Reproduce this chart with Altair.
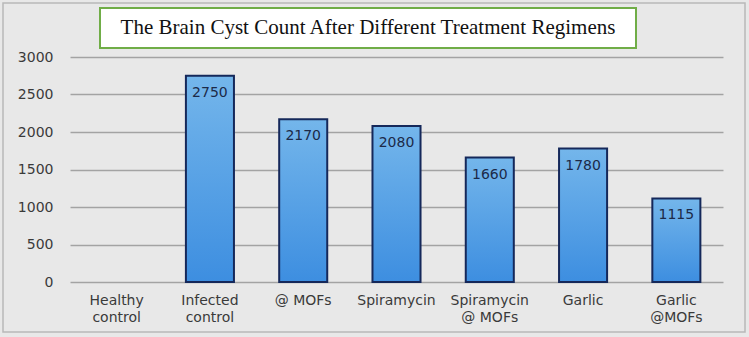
import altair as alt
import pandas as pd

categories = ["Healthy control", "Infected control", "@ MOFs", "Spiramycin",
              "Spiramycin @ MOFs", "Garlic", "Garlic @MOFs"]
label_lines = ["Healthy|control", "Infected|control", "@ MOFs", "Spiramycin",
               "Spiramycin|@ MOFs", "Garlic", "Garlic|@MOFs"]
counts = [0, 2750, 2170, 2080, 1660, 1780, 1115]
y_ticks = [0, 500, 1000, 1500, 2000, 2500, 3000]
title_text = "The Brain Cyst Count After Different Treatment Regimens"

df = pd.DataFrame({"group": categories, "count": counts, "lbl": label_lines})
label_map = {c: l for c, l in zip(categories, label_lines)}
expr_map = "{" + ",".join(f"'{c}':'{l}'" for c, l in label_map.items()) + "}"

W, H = 653, 225

xenc = alt.X("group:N", sort=categories,
             scale=alt.Scale(domain=categories, paddingInner=0.485, paddingOuter=0.2425),
             axis=alt.Axis(title=None, labelAngle=0, domain=False, ticks=False,
                           labelPadding=11, labelFont="DejaVu Sans", labelFontSize=14,
                           labelColor="#3a3a3a", labelLineHeight=17, labelBaseline="top",
                           labelExpr=f"split({expr_map}[datum.value], '|')"))
yenc = alt.Y("count:Q", scale=alt.Scale(domain=[0, 3000], nice=False),
             axis=alt.Axis(title=None, values=y_ticks, tickCount=7, format="d",
                           domain=False, ticks=False, labelOverlap=False,
                           labelPadding=17, labelFont="DejaVu Sans", labelFontSize=14,
                           labelColor="#3a3a3a", gridColor="#a3a3a3", gridWidth=1.5))

base = alt.Chart(df).transform_filter("datum.count > 0")

bars = base.mark_bar(
    color=alt.Gradient(gradient="linear",
                       stops=[alt.GradientStop(color="#74b6eb", offset=0),
                              alt.GradientStop(color="#3d8ee0", offset=1)],
                       x1=0, x2=0, y1=0, y2=1),
    stroke="#15285a", strokeWidth=2
).encode(x=xenc, y=yenc)

labels = base.mark_text(baseline="top", dy=10, font="DejaVu Sans", fontSize=14,
                        color="#1c2a48").encode(x=xenc, y=yenc, text="count:Q")

deco = alt.Chart(pd.DataFrame({"t": [title_text]}))
outer = deco.mark_rect(fill=None, stroke="#b8b8b8", strokeWidth=1.5).encode(
    x=alt.value(-67), x2=alt.value(675), y=alt.value(-54), y2=alt.value(275))
box = deco.mark_rect(fill="white", stroke="#70ad47", strokeWidth=2).encode(
    x=alt.value(30), x2=alt.value(566), y=alt.value(-49), y2=alt.value(-9))
ttl = deco.mark_text(font="Liberation Serif", fontSize=21, color="#111111",
                     baseline="middle", align="center").encode(
    x=alt.value(298), y=alt.value(-29), text="t:N")

chart = alt.layer(bars, labels, outer, box, ttl).properties(
    width=W, height=H,
    padding={"left": 70, "top": 57, "right": 26, "bottom": 55},
    autosize=alt.AutoSizeParams(type="none"),
    background="#e8e8e8"
).configure_view(stroke=None)

chart.save("out.html", embed_options={"renderer": "svg", "actions": False})
